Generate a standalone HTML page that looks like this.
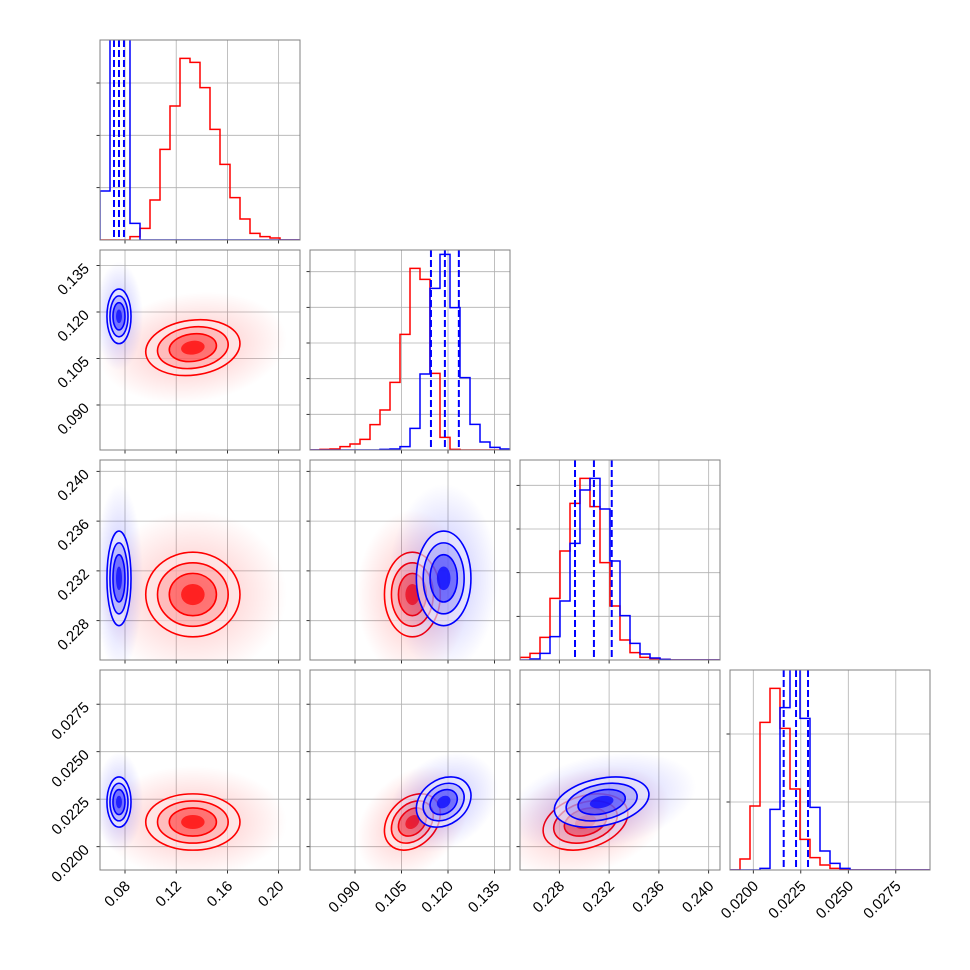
<!DOCTYPE html>
<html><head><meta charset="utf-8"><style>
html,body{margin:0;padding:0;background:#fff;}
svg{display:block;font-family:"Liberation Sans",sans-serif;}
</style></head><body>
<svg id="chart" width="970" height="970" viewBox="0 0 970 970" xmlns="http://www.w3.org/2000/svg">
<defs>
<radialGradient id="cloudRed"><stop offset="0" stop-color="#ff0000" stop-opacity="0.25"/><stop offset="0.6" stop-color="#ff0000" stop-opacity="0.1"/><stop offset="1" stop-color="#ff0000" stop-opacity="0"/></radialGradient>
<radialGradient id="cloudBlue"><stop offset="0" stop-color="#0000ff" stop-opacity="0.25"/><stop offset="0.6" stop-color="#0000ff" stop-opacity="0.1"/><stop offset="1" stop-color="#0000ff" stop-opacity="0"/></radialGradient>
</defs>
</svg>
<script>
// ---- data ----
const paramLo=[0.06047,0.07548,0.22484,0.018774];
const paramHi=[0.2167,0.1400,0.24091,0.029300];
const tickVals=[[0.08,0.12,0.16,0.20],[0.090,0.105,0.120,0.135],[0.228,0.232,0.236,0.240],[0.0200,0.0225,0.0250,0.0275]];
const tickLabels=[["0.08","0.12","0.16","0.20"],["0.090","0.105","0.120","0.135"],["0.228","0.232","0.236","0.240"],["0.0200","0.0225","0.0250","0.0275"]];
// histogram counts, 20 bins over each parameter range
const histRed=[
 [0,0,0,10,35,120,272,402,545,533,457,332,227,127,63,20,10,6,0,0],
 [0,2,3,10,18,32,76,120,203,347,545,512,230,38,2,0,0,0,0,0],
 [8,20,68,185,327,470,545,460,292,162,60,22,8,4,2,0,0,0,0,0],
 [0,33,192,443,545,425,243,92,37,15,5,2,0,0,0,0,0,0,0,0]];
const histBlue=[
 [147,2000,2000,50,0,0,0,0,0,0,0,0,0,0,0,0,0,0,0,0],
 [0,0,0,0,0,0,0,2,3,10,65,228,485,587,427,217,77,24,8,3],
 [0,3,20,70,177,350,510,545,453,297,133,50,18,6,2,0,0,0,0,0],
 [0,0,0,5,182,487,700,455,188,57,20,5,0,0,0,0,0,0,0,0]];
const histMax=600;
const histTickStep=[157,107,131,204];
const quantBlue=[[0.0714,0.0753,0.0792],[0.1145,0.1190,0.1235],[0.22926,0.23078,0.23221],[0.02160,0.02225,0.02288]];
const meanRed=[0.133,0.1085,0.2301,0.02130];
const sdRed=[0.0184,0.0045,0.0017,0.00074];
const meanBlue=[0.0753,0.1186,0.2314,0.02235];
const sdBlue=[0.0047,0.0044,0.0019,0.00066];
const corrRed=[[1,0.15,0,0],[0.15,1,0,0.3],[0,0,1,0.3],[0,0.3,0.3,1]];
const corrBlue=[[1,0,0,0],[0,1,0,0.25],[0,0,1,0.3],[0,0.25,0.3,1]];
const levels=[0.5,1,1.5,2];

// ---- drawing ----
const NS="http://www.w3.org/2000/svg";
const svg=document.getElementById('chart');
const S=200, G=210, X0=100, Y0=40;
function mk(tag,attrs,parent){const e=document.createElementNS(NS,tag);for(const k in attrs)e.setAttribute(k,attrs[k]);(parent||svg).appendChild(e);return e;}
function px(p,v,c){return X0+G*c+(v-paramLo[p])/(paramHi[p]-paramLo[p])*S;}
function py(p,v,r){return Y0+G*r+S-(v-paramLo[p])/(paramHi[p]-paramLo[p])*S;}

for(let r=0;r<4;r++){
 for(let c=0;c<=r;c++){
  const x0=X0+G*c,y0=Y0+G*r;
  const g=mk('g',{});
  
  
  const cid='clip'+r+'_'+c;
  const cp=mk('clipPath',{id:cid},g);mk('rect',{x:x0,y:y0,width:S,height:S},cp);
  for(const v of tickVals[c]){const x=px(c,v,c);mk('line',{x1:x,x2:x,y1:y0,y2:y0+S,stroke:'#b0b0b0','stroke-width':0.8},g);
   mk('line',{x1:x,x2:x,y1:y0+S,y2:y0+S+3.5,stroke:'#000','stroke-width':0.8},g);}
  if(r===c){
   const k=histTickStep[c];
   for(let t=k;t<histMax;t+=k){const y=y0+S-t/histMax*S;mk('line',{x1:x0,x2:x0+S,y1:y,y2:y,stroke:'#b0b0b0','stroke-width':0.8},g);
    mk('line',{x1:x0-3.5,x2:x0,y1:y,y2:y,stroke:'#000','stroke-width':0.8},g);}
   const inner=mk('g',{'clip-path':'url(#'+cid+')'},g);
   [[histRed[c],'#ff0000'],[histBlue[c],'#0000ff']].forEach(([h,col])=>{
    const n=h.length;let d='M'+x0+','+(y0+S);
    for(let i=0;i<n;i++){const xa=x0+i*S/n,xb=x0+(i+1)*S/n,y=y0+S-h[i]/histMax*S;d+=' L'+xa+','+y+' L'+xb+','+y;}
    d+=' L'+(x0+S)+','+(y0+S);
    const p=mk('path',{d:d,fill:'none',stroke:col,'stroke-width':1.5},inner);
    
    
   });
   for(const q of quantBlue[c]){const x=px(c,q,c);const l=mk('line',{x1:x,x2:x,y1:y0,y2:y0+S,stroke:'#0000ff','stroke-width':2,'stroke-dasharray':'7,3'},inner);
    
    }
  } else {
   for(const v of tickVals[r]){const y=py(r,v,r);mk('line',{x1:x0,x2:x0+S,y1:y,y2:y,stroke:'#b0b0b0','stroke-width':0.8},g);
    mk('line',{x1:x0-3.5,x2:x0,y1:y,y2:y,stroke:'#000','stroke-width':0.8},g);}
   const inner=mk('g',{'clip-path':'url(#'+cid+')'},g);
   [[meanRed,sdRed,corrRed,'#ff0000','cloudRed'],[meanBlue,sdBlue,corrBlue,'#0000ff','cloudBlue']].forEach(([m,sd,cr,col,grad])=>{
    const cx=px(c,m[c],c),cy=py(r,m[r],r);
    const sx=sd[c]/(paramHi[c]-paramLo[c])*S, sy=sd[r]/(paramHi[r]-paramLo[r])*S, rho=-cr[r][c];
    const a=sx*sx,b=rho*sx*sy,d=sy*sy;
    const tr=(a+d)/2,df=Math.sqrt(((a-d)/2)**2+b*b);
    const l1=tr+df,l2=Math.max(tr-df,1e-6);
    const r1=Math.sqrt(l1),r2=Math.sqrt(l2);
    const angle=(b===0)?(a>=d?0:90):Math.atan2(l1-a,b)*180/Math.PI;
    const rt='rotate('+angle+' '+cx+' '+cy+')';
    const e=mk('ellipse',{cx:cx,cy:cy,rx:r1*4,ry:r2*4,fill:'url(#'+grad+')',transform:rt},inner);
    
    
    const fills=[0.7,0.38,0.16,0.05];
    for(let i=levels.length-1;i>=0;i--){
     const L=levels[i];
     if(i===levels.length-1) mk('ellipse',{cx:cx,cy:cy,rx:r1*L,ry:r2*L,fill:'#fff','fill-opacity':0.6,transform:rt},inner);
     mk('ellipse',{cx:cx,cy:cy,rx:r1*L,ry:r2*L,fill:col,'fill-opacity':fills[i],transform:rt},inner);
    }
    for(const L of levels.slice(1)){
     const ce=mk('ellipse',{cx:cx,cy:cy,rx:r1*L,ry:r2*L,fill:'none',stroke:col,'stroke-width':1.6,transform:rt},inner);
     
     
    }
   });
  }
  mk('rect',{x:x0,y:y0,width:S,height:S,fill:'none',stroke:'#808080','stroke-width':1},g);
 }
}
for(let c=0;c<4;c++){
 tickVals[c].forEach((v,i)=>{const x=px(c,v,c);
  const t=mk('text',{x:0,y:0,'font-size':15,'text-anchor':'end',transform:'translate('+(x+6)+','+(Y0+3*G+S+17)+') rotate(-45)'});
  t.textContent=tickLabels[c][i];
  
  
 });
}
for(let r=1;r<4;r++){
 tickVals[r].forEach((v,i)=>{const y=py(r,v,r);
  const t=mk('text',{x:0,y:0,'font-size':15,'text-anchor':'end',transform:'translate('+(X0-10)+','+(y+4)+') rotate(-45)'});
  t.textContent=tickLabels[r][i];
  
  
 });
}
</script>
</body></html>
